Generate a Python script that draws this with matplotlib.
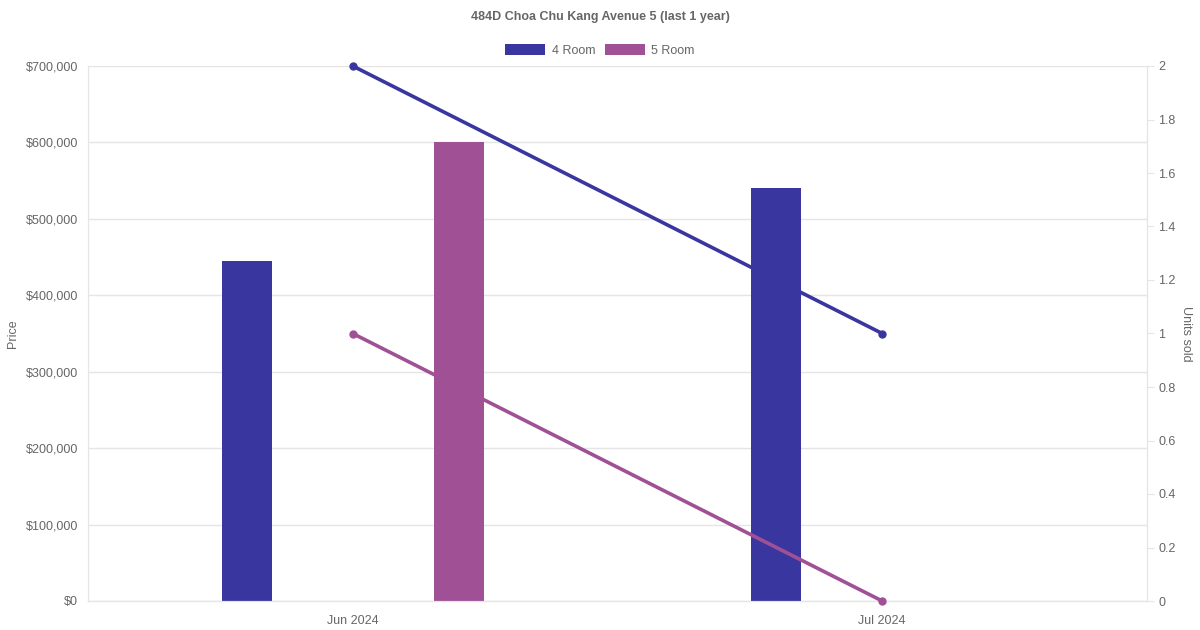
import matplotlib
matplotlib.use("Agg")
import matplotlib.pyplot as plt
from matplotlib.patches import Patch
from matplotlib.ticker import FuncFormatter, MultipleLocator

plt.rcParams['font.family'] = ['Liberation Sans', 'DejaVu Sans']

# data
months = ["Jun 2024", "Jul 2024"]
price_4room = [445000, 540000]
price_5room = [600000, 0]
units_4room = [2, 1]
units_5room = [1, 0]

c4 = "#3a36a0"
c5 = "#a05195"
txt = "#666666"
grid = "#e5e5e5"

fig = plt.figure(figsize=(12, 6.3), dpi=100)
ax = fig.add_axes([88/1200, 1-601/630, (1147-88)/1200, (601-66)/630])
ax2 = ax.twinx()

x = list(range(len(months)))
w = 50/529.5
ax.bar([i - 0.2 for i in x], price_4room, width=w, color=c4, lw=0, zorder=2)
ax.bar([i + 0.2 for i in x], price_5room, width=w, color=c5, lw=0, zorder=2)

ax2.plot(x, units_4room, color=c4, lw=2.6, marker="o", ms=5, zorder=3, clip_on=False)
ax2.plot(x, units_5room, color=c5, lw=2.6, marker="o", ms=5, zorder=3, clip_on=False)

ax.set_xlim(-0.5, 1.5)
ax.set_ylim(0, 700000)
ax2.set_ylim(0, 2)
ax.set_xticks(x)
ax.set_xticklabels(months)
ax.yaxis.set_major_locator(MultipleLocator(100000))
ax.yaxis.set_major_formatter(FuncFormatter(lambda v, p: "${:,.0f}".format(v)))
ax2.yaxis.set_major_locator(MultipleLocator(0.2))
ax2.yaxis.set_major_formatter(FuncFormatter(lambda v, p: "{:g}".format(round(v, 1))))

ax.grid(axis="y", color=grid, lw=1, zorder=0)
ax.set_axisbelow(True)

for a in (ax, ax2):
    for s in a.spines.values():
        s.set_color(grid)
    a.spines["top"].set_visible(False)
ax.spines["bottom"].set_color("#cccccc")

ax.tick_params(axis="y", length=0, pad=7, labelsize=9, labelcolor=txt)
ax.tick_params(axis="x", length=0, pad=10, labelsize=9, labelcolor=txt)
ax2.tick_params(axis="y", length=5, color=grid, pad=3, labelsize=9, labelcolor=txt)

ax.set_ylabel("Price", color=txt, fontsize=9, labelpad=5)
ax2.set_ylabel("Units sold", color=txt, fontsize=9, rotation=270, labelpad=12)

fig.text(0.5, 1-17/630, "484D Choa Chu Kang Avenue 5 (last 1 year)", ha="center", va="center",
         fontsize=9, fontweight="bold", color=txt)

handles = [Patch(facecolor=c4, label="4 Room"), Patch(facecolor=c5, label="5 Room")]
fig.legend(handles=handles, loc="center", bbox_to_anchor=(0.5, 1-50.5/630), ncol=2, frameon=False,
           fontsize=9, handlelength=3.2, handleheight=1.0, handletextpad=0.5, columnspacing=0.8,
           labelcolor=txt)

fig.savefig("out.png", dpi=100)
